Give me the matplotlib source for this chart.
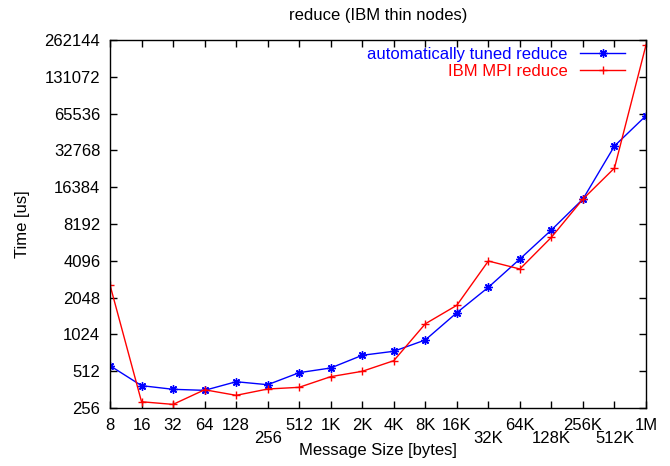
import matplotlib
matplotlib.use("Agg")
import matplotlib.pyplot as plt
from matplotlib.ticker import FixedLocator, NullLocator
from matplotlib.transforms import ScaledTranslation

plt.rcParams['font.family'] = ['Liberation Sans', 'DejaVu Sans']

sizes = [8, 16, 32, 64, 128, 256, 512, 1024, 2048, 4096, 8192, 16384,
         32768, 65536, 131072, 262144, 524288, 1048576]
size_labels = ["8", "16", "32", "64", "128", "256", "512", "1K", "2K", "4K",
               "8K", "16K", "32K", "64K", "128K", "256K", "512K", "1M"]
lowered = ["256", "32K", "128K", "512K"]

tuned = [568, 390, 364, 357, 420, 397, 498, 544, 691, 745, 922, 1541,
         2486, 4236, 7320, 13100, 35600, 63000]
ibm = [2597, 288, 274, 361, 325, 366, 378, 462, 511, 624, 1250, 1772,
       4080, 3510, 6380, 13100, 23500, 238600]

y_ticks = [256, 512, 1024, 2048, 4096, 8192, 16384, 32768, 65536, 131072, 262144]

FS = 12
W, H = 670, 466
L, R, T, B = 110, 646, 40, 408

fig = plt.figure(figsize=(W/100, H/100), dpi=100)
ax = fig.add_axes([L/W, 1 - B/H, (R-L)/W, (B-T)/H])

ax.plot(sizes, tuned, color='#0000ff', lw=1, marker=(8, 2, 0), ms=6, mew=1,
        label='automatically tuned reduce')
ax.plot(sizes, ibm, color='#ff0000', lw=1, marker='+', ms=6, mew=1,
        label='IBM MPI reduce')

ax.set_xscale('log', base=2)
ax.set_yscale('log', base=2)
ax.set_xlim(8, 1048576)
ax.set_ylim(256, 262144)

ax.xaxis.set_major_locator(FixedLocator(sizes))
ax.xaxis.set_minor_locator(NullLocator())
ax.set_xticklabels(size_labels)
ax.yaxis.set_major_locator(FixedLocator(y_ticks))
ax.yaxis.set_minor_locator(NullLocator())
ax.set_yticklabels([str(v) for v in y_ticks])

ax.tick_params(which='major', direction='in', length=5, width=1,
               top=True, right=True, labelsize=FS, pad=7, colors='black')

off = ScaledTranslation(0, -13/100, fig.dpi_scale_trans)
for lab in ax.get_xticklabels():
    if lab.get_text() in lowered:
        lab.set_transform(lab.get_transform() + off)

for s in ax.spines.values():
    s.set_linewidth(1)

ax.set_xlabel('Message Size [bytes]', fontsize=FS)
ax.xaxis.set_label_coords(0.5, -(450 - B) / (B - T))
ax.xaxis.label.set_va('center')
ax.set_ylabel('Time [us]', fontsize=FS)
ax.yaxis.set_label_coords(-(L - 23) / (R - L), 0.5)
ax.yaxis.label.set_va('center')
ax.set_title('reduce (IBM thin nodes)', fontsize=FS, y=(B - 15) / (B - T),
             va='center', pad=0)

leg = ax.legend(loc='upper right', frameon=False, markerfirst=False,
                labelcolor='linecolor', fontsize=FS, handlelength=2.7,
                handletextpad=0.75, labelspacing=0.1, borderaxespad=0.0,
                borderpad=0.0,
                bbox_to_anchor=((625 - L) / (R - L), (B - 47) / (B - T)))

fig.savefig('out.png', dpi=100)
